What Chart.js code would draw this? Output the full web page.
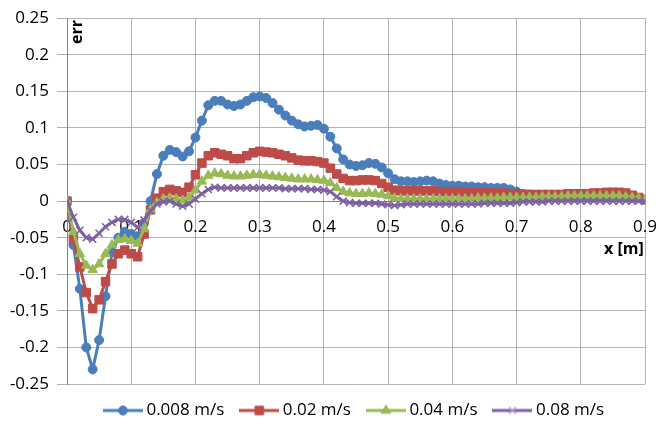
<!DOCTYPE html>
<html>
<head>
<meta charset="utf-8">
<script src="https://cdn.jsdelivr.net/npm/chart.js@4"></script>
<style>
html, body { margin: 0; padding: 0; background: #fff; }
</style>
</head>
<body>
<canvas id="graph" width="659" height="428"></canvas>
<script>
// Positions le long de x (m)
const xValues = [0, 0.01, 0.02, 0.03, 0.04, 0.05, 0.06, 0.07, 0.08, 0.09,
    0.1, 0.11, 0.12, 0.13, 0.14, 0.15, 0.16, 0.17, 0.18, 0.19,
    0.2, 0.21, 0.22, 0.23, 0.24, 0.25, 0.26, 0.27, 0.28, 0.29,
    0.3, 0.31, 0.32, 0.33, 0.34, 0.35, 0.36, 0.37, 0.38, 0.39,
    0.4, 0.41, 0.42, 0.43, 0.44, 0.45, 0.46, 0.47, 0.48, 0.49,
    0.5, 0.51, 0.52, 0.53, 0.54, 0.55, 0.56, 0.57, 0.58, 0.59,
    0.6, 0.61, 0.62, 0.63, 0.64, 0.65, 0.66, 0.67, 0.68, 0.69,
    0.7, 0.71, 0.72, 0.73, 0.74, 0.75, 0.76, 0.77, 0.78, 0.79,
    0.8, 0.81, 0.82, 0.83, 0.84, 0.85, 0.86, 0.87, 0.88, 0.89, 0.9];

const seriesNames = ["0.008 m/s", "0.02 m/s", "0.04 m/s", "0.08 m/s"];

const err008 = [0, -0.06, -0.12, -0.2, -0.23, -0.19, -0.13, -0.07, -0.05, -0.042,
    -0.045, -0.048, -0.03, 0.0, 0.037, 0.062, 0.07, 0.067, 0.061, 0.068,
    0.087, 0.11, 0.131, 0.137, 0.137, 0.132, 0.13, 0.132, 0.137, 0.142,
    0.143, 0.141, 0.134, 0.125, 0.117, 0.11, 0.105, 0.102, 0.103, 0.104,
    0.099, 0.088, 0.072, 0.057, 0.05, 0.048, 0.049, 0.052, 0.051, 0.046,
    0.038, 0.03, 0.027, 0.027, 0.026, 0.027, 0.028, 0.027, 0.024, 0.022,
    0.021, 0.021, 0.02, 0.02, 0.019, 0.019, 0.018, 0.018, 0.018, 0.016,
    0.013, 0.01, 0.009, 0.008, 0.008, 0.007, 0.007, 0.007, 0.006, 0.006,
    0.006, 0.006, 0.007, 0.007, 0.007, 0.007, 0.006, 0.006, 0.005, 0.004, 0.002];

const err02 = [0, -0.052, -0.09, -0.125, -0.147, -0.135, -0.11, -0.086, -0.072, -0.067,
    -0.072, -0.076, -0.045, -0.012, 0.004, 0.013, 0.016, 0.014, 0.012, 0.019,
    0.036, 0.052, 0.062, 0.066, 0.064, 0.062, 0.058, 0.058, 0.062, 0.066,
    0.068, 0.067, 0.066, 0.064, 0.062, 0.059, 0.056, 0.055, 0.055, 0.054,
    0.052, 0.045, 0.037, 0.031, 0.028, 0.028, 0.029, 0.029, 0.028, 0.024,
    0.019, 0.015, 0.014, 0.014, 0.014, 0.014, 0.014, 0.014, 0.013, 0.013,
    0.013, 0.013, 0.012, 0.012, 0.012, 0.012, 0.011, 0.011, 0.011, 0.01,
    0.01, 0.009, 0.009, 0.009, 0.009, 0.009, 0.009, 0.009, 0.01, 0.01,
    0.01, 0.01, 0.011, 0.011, 0.012, 0.012, 0.012, 0.011, 0.008, 0.005, 0.002];

const err04 = [0, -0.042, -0.072, -0.088, -0.094, -0.086, -0.072, -0.06, -0.053, -0.052,
    -0.054, -0.058, -0.038, -0.012, -0.002, 0.003, 0.004, 0.003, 0.001, 0.005,
    0.015, 0.027, 0.035, 0.038, 0.037, 0.035, 0.034, 0.034, 0.035, 0.036,
    0.036, 0.035, 0.034, 0.033, 0.032, 0.031, 0.03, 0.03, 0.03, 0.029,
    0.028, 0.025, 0.018, 0.013, 0.011, 0.01, 0.01, 0.011, 0.01, 0.009,
    0.007, 0.004, 0.003, 0.003, 0.003, 0.003, 0.003, 0.003, 0.003, 0.003,
    0.003, 0.003, 0.003, 0.003, 0.004, 0.004, 0.004, 0.004, 0.005, 0.005,
    0.005, 0.005, 0.005, 0.005, 0.006, 0.006, 0.006, 0.006, 0.007, 0.007,
    0.007, 0.007, 0.007, 0.007, 0.007, 0.007, 0.007, 0.006, 0.005, 0.004, 0.002];

const err08 = [0, -0.022, -0.04, -0.05, -0.052, -0.044, -0.035, -0.029, -0.025, -0.025,
    -0.029, -0.036, -0.026, -0.013, -0.004, -0.001, 0.0, -0.004, -0.007, -0.004,
    0.003, 0.01, 0.016, 0.019, 0.018, 0.018, 0.018, 0.018, 0.018, 0.018,
    0.018, 0.018, 0.018, 0.018, 0.017, 0.017, 0.017, 0.017, 0.016, 0.016,
    0.015, 0.013, 0.006, 0.0, -0.002, -0.003, -0.003, -0.003, -0.003, -0.004,
    -0.005, -0.006, -0.005, -0.004, -0.004, -0.004, -0.004, -0.004, -0.004, -0.004,
    -0.004, -0.004, -0.004, -0.004, -0.004, -0.003, -0.003, -0.003, -0.003, -0.003,
    -0.002, -0.001, -0.001, -0.001, -0.001, 0.0, 0.0, 0.0, 0.0, 0.0,
    0.0, 0.0, 0.0, 0.0, 0.0, 0.0, 0.0, 0.0, 0.0, 0.0, 0.0];

const colors = ["#4A7EBB", "#BE4B48", "#98B954", "#7D60A0"];
const markers = ["circle", "rect", "triangle", "crossRot"];
const markerSizes = [4.5, 6, 5.5, 5];

const FONT = "'Open Sans', 'Liberation Sans', sans-serif";

function toPoints(values) {
    return values.map((v, i) => ({x: xValues[i], y: v}));
}

// enlever les zeros inutiles : 0.20 -> 0.2
function tickText(value) {
    return String(parseFloat(value.toFixed(2)));
}

// petite image ligne + marqueur pour la legende
function legendSymbol(i) {
    let c = document.createElement("canvas");
    c.width = 40;
    c.height = 14;
    let ctx = c.getContext("2d");
    ctx.strokeStyle = colors[i];
    ctx.lineWidth = 3;
    ctx.beginPath();
    ctx.moveTo(0, 7);
    ctx.lineTo(40, 7);
    ctx.stroke();
    ctx.fillStyle = colors[i];
    if (i === 3) {
        ctx.strokeStyle = "#B9A8D0";
        ctx.lineWidth = 1.5;
    } else {
        ctx.lineWidth = 1;
    }
    Chart.helpers.drawPoint(ctx, {pointStyle: markers[i], radius: markerSizes[i], rotation: 0, borderWidth: ctx.lineWidth}, 20, 7);
    return c;
}

// textes "err" et "x [m]"
const axisTexts = {
    id: "axisTexts",
    afterLayout(chart) {
        chart.legend.top -= 2;
        chart.legend.bottom -= 2;
    },
    afterDraw(chart) {
        let ctx = chart.ctx;
        ctx.save();
        ctx.fillStyle = "#000";
        ctx.font = "bold 16px " + FONT;
        ctx.textBaseline = "middle";
        ctx.textAlign = "left";
        ctx.fillText("x [m]", 604, 249);
        ctx.translate(77, 32);
        ctx.rotate(-Math.PI / 2);
        ctx.textAlign = "center";
        ctx.fillText("err", 0, 0);
        ctx.restore();
    }
};

const allSeries = [err008, err02, err04, err08];

const datasets = allSeries.map((values, i) => ({
    label: seriesNames[i],
    data: toPoints(values),
    borderColor: colors[i],
    backgroundColor: colors[i],
    borderWidth: 3,
    pointStyle: markers[i],
    pointRadius: markerSizes[i],
    pointBorderWidth: i === 3 ? 1.5 : 1,
    pointBorderColor: colors[i],
    pointBackgroundColor: colors[i],
    showLine: true,
    tension: 0,
    order: 4 - i
}));

window.onload = function () {
    const graph = new Chart(document.getElementById("graph"), {
        type: "line",
        data: {datasets: datasets},
        options: {
            responsive: false,
            animation: false,
            devicePixelRatio: 1,
            layout: {padding: {top: 17, right: 13, left: 0, bottom: 0}},
            plugins: {
                tooltip: {enabled: false},
                legend: {
                    position: "bottom",
                    fullSize: false,
                    maxHeight: 44,
                    labels: {
                        usePointStyle: true,
                        pointStyleWidth: 30,
                        padding: 20,
                        color: "#000",
                        font: {family: FONT, size: 17},
                        generateLabels: chart => chart.data.datasets.map((ds, i) => ({
                            text: ds.label,
                            pointStyle: legendSymbol(i),
                            fillStyle: colors[i],
                            strokeStyle: colors[i],
                            lineWidth: 0,
                            hidden: false,
                            datasetIndex: i
                        }))
                    }
                }
            },
            scales: {
                x: {
                    type: "linear",
                    min: 0,
                    max: 0.9,
                    position: {y: 0},
                    ticks: {stepSize: 0.1, padding: 2, color: "#000", font: {family: FONT, size: 17}, callback: tickText},
                    grid: {color: "#B4B4B4", drawTicks: true, tickLength: 14, tickColor: "rgba(0,0,0,0)"},
                    border: {color: "#868686", width: 1}
                },
                y: {
                    type: "linear",
                    min: -0.25,
                    max: 0.25,
                    afterFit: s => { s.width = 67; },
                    ticks: {stepSize: 0.05, padding: 8, color: "#000", font: {family: FONT, size: 17}, callback: tickText},
                    grid: {color: "#B4B4B4", tickLength: 10},
                    border: {color: "#868686", width: 1}
                }
            }
        },
        plugins: [axisTexts]
    });
};
</script>
</body>
</html>
